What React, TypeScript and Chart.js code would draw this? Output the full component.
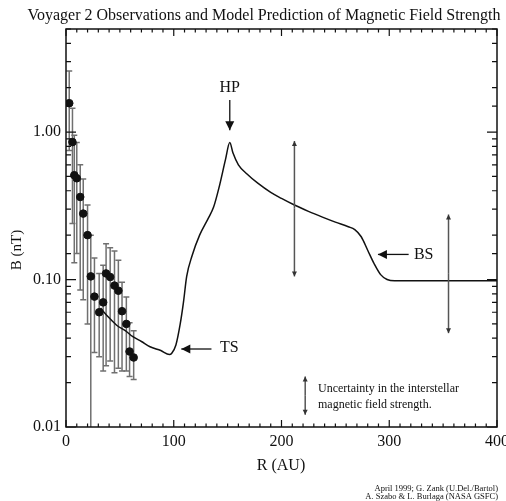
import React, { useEffect, useRef } from 'react';
import { Chart, registerables } from 'chart.js';
Chart.register(...registerables);

// Voyager 2 observations (R in AU, B in nT) with error bar limits
const obsR = [3, 6, 7.7, 10, 13.2, 16, 20, 23, 26.4, 30.8, 34.5, 37.2, 41, 45, 48.6, 52, 56, 59, 62.8];
const obsB = [1.57, 0.855, 0.51, 0.486, 0.363, 0.28, 0.2, 0.105, 0.0766, 0.06, 0.07, 0.11, 0.104, 0.091, 0.084, 0.061, 0.05, 0.0325, 0.0296];
const obsHi = [2.6, 1.45, 0.95, 0.85, 0.6, 0.48, 0.32, 0.2, 0.14, 0.11, 0.125, 0.175, 0.164, 0.156, 0.135, 0.096, 0.076, 0.051, 0.045];
const obsLo = [0.75, 0.24, 0.13, 0.15, 0.085, 0.073, 0.05, 0.005, 0.032, 0.03, 0.024, 0.026, 0.028, 0.0233, 0.025, 0.024, 0.024, 0.022, 0.021];

// Model prediction curve
const modelR = [32, 40, 47, 55, 62, 70, 78, 88, 96, 98, 102, 106, 109, 112, 117, 124, 132, 137, 142, 148, 152, 155, 160, 168, 178, 190, 200, 212, 225, 238, 250, 262, 268, 274, 280, 286, 292, 298, 305, 400];
const modelB = [0.064, 0.055, 0.049, 0.045, 0.041, 0.038, 0.035, 0.033, 0.031, 0.0315, 0.036, 0.05, 0.07, 0.105, 0.145, 0.2, 0.26, 0.31, 0.42, 0.65, 0.85, 0.72, 0.6, 0.52, 0.45, 0.39, 0.355, 0.32, 0.29, 0.265, 0.245, 0.228, 0.218, 0.195, 0.158, 0.128, 0.108, 0.1, 0.098, 0.098];

// Uncertainty of interstellar field (double arrows)
const uncR = [212, 355, 222];
const uncLo = [0.105, 0.0433, 0.0121];
const uncHi = [0.87, 0.276, 0.022];

const xTickLabels = [0, 100, 200, 300, 400];
const yTickLabels = [0.01, 0.1, 1];

const TITLE = 'Voyager 2 Observations and Model Prediction of Magnetic Field Strength';
const SERIF = '"Liberation Serif", "Times New Roman", serif';

function arrowHead(ctx: CanvasRenderingContext2D, x1: number, y1: number, x2: number, y2: number, len: number, half: number) {
  const ang = Math.atan2(y2 - y1, x2 - x1);
  ctx.beginPath();
  ctx.moveTo(x2, y2);
  ctx.lineTo(x2 - len * Math.cos(ang) + half * Math.sin(ang), y2 - len * Math.sin(ang) - half * Math.cos(ang));
  ctx.lineTo(x2 - len * Math.cos(ang) - half * Math.sin(ang), y2 - len * Math.sin(ang) + half * Math.cos(ang));
  ctx.closePath();
  ctx.fill();
}

function arrow(ctx: CanvasRenderingContext2D, x1: number, y1: number, x2: number, y2: number, len: number, half: number) {
  ctx.beginPath();
  ctx.moveTo(x1, y1);
  ctx.lineTo(x2, y2);
  ctx.stroke();
  arrowHead(ctx, x1, y1, x2, y2, len, half);
}

const errorBars = {
  id: 'errorBars',
  beforeDatasetsDraw(chart: any) {
    const { ctx, chartArea: a, scales } = chart;
    const x = scales.x, y = scales.y;
    ctx.save();
    ctx.beginPath();
    ctx.rect(a.left, a.top, a.right - a.left, a.bottom - a.top);
    ctx.clip();
    ctx.strokeStyle = '#707070';
    ctx.lineWidth = 1.5;
    for (let i = 0; i < obsR.length; i++) {
      const px = x.getPixelForValue(obsR[i]);
      const yh = y.getPixelForValue(obsHi[i]);
      const yl = y.getPixelForValue(obsLo[i]);
      ctx.beginPath();
      ctx.moveTo(px, yh); ctx.lineTo(px, yl);
      ctx.moveTo(px - 3, yh); ctx.lineTo(px + 3, yh);
      ctx.moveTo(px - 3, yl); ctx.lineTo(px + 3, yl);
      ctx.stroke();
    }
    ctx.restore();
  },
  afterDraw(chart: any) {
    const { ctx, chartArea: a, scales } = chart;
    const x = scales.x, y = scales.y;
    ctx.save();
    // uncertainty arrows
    ctx.strokeStyle = '#555';
    ctx.fillStyle = '#333';
    ctx.lineWidth = 1.5;
    for (let i = 0; i < uncR.length; i++) {
      const px = x.getPixelForValue(uncR[i]);
      const yt = y.getPixelForValue(uncHi[i]);
      const yb = y.getPixelForValue(uncLo[i]);
      const mid = (yt + yb) / 2;
      arrow(ctx, px, mid, px, yt, 5, 2.5);
      arrow(ctx, px, mid, px, yb, 5, 2.5);
    }
    // annotation arrows
    ctx.strokeStyle = '#111';
    ctx.fillStyle = '#111';
    ctx.lineWidth = 1.3;
    // HP
    const hpX = x.getPixelForValue(152);
    arrow(ctx, hpX, y.getPixelForValue(1.65), hpX, y.getPixelForValue(1.03), 9, 4.5);
    // TS
    const tsY = y.getPixelForValue(0.0338);
    arrow(ctx, x.getPixelForValue(135), tsY, x.getPixelForValue(107), tsY, 9, 4.5);
    // BS
    const bsY = y.getPixelForValue(0.148);
    arrow(ctx, x.getPixelForValue(318), bsY, x.getPixelForValue(289.5), bsY, 9, 4.5);

    ctx.font = '16px ' + SERIF;
    ctx.textAlign = 'center';
    ctx.textBaseline = 'middle';
    ctx.fillText('HP', hpX, y.getPixelForValue(2.0));
    ctx.fillText('TS', x.getPixelForValue(151.5), tsY - 1);
    ctx.fillText('BS', x.getPixelForValue(332), bsY);

    ctx.font = '12px ' + SERIF;
    ctx.textAlign = 'left';
    ctx.fillText('Uncertainty in the interstellar', 318, 389);
    ctx.fillText('magnetic field strength.', 318, 405);

    // frame
    ctx.strokeStyle = '#111';
    ctx.lineWidth = 1.5;
    ctx.strokeRect(a.left, a.top, a.right - a.left, a.bottom - a.top);
    // inward ticks
    ctx.lineWidth = 1.2;
    ctx.beginPath();
    for (const t of x.ticks) {
      const v = t.value;
      const px = x.getPixelForValue(v);
      const len = Math.abs(v % 100) < 1e-6 ? 7 : 3.5;
      ctx.moveTo(px, a.bottom); ctx.lineTo(px, a.bottom - len);
      ctx.moveTo(px, a.top); ctx.lineTo(px, a.top + len);
    }
    for (const t of y.ticks) {
      const v = t.value;
      const l = Math.log10(v);
      const py = y.getPixelForValue(v);
      const major = Math.abs(l - Math.round(l)) < 1e-6;
      const len = major ? 10 : 5;
      ctx.moveTo(a.left, py); ctx.lineTo(a.left + len, py);
      ctx.moveTo(a.right, py); ctx.lineTo(a.right - len, py);
    }
    ctx.stroke();

    // title and axis titles
    ctx.fillStyle = '#111';
    ctx.font = '16px ' + SERIF;
    ctx.textAlign = 'center';
    ctx.fillText(TITLE, 264, 16);
    ctx.fillText('R (AU)', 281, 466);
    ctx.save();
    ctx.translate(17, 250);
    ctx.rotate(-Math.PI / 2);
    ctx.font = '15px ' + SERIF;
    ctx.fillText('B (nT)', 0, 0);
    ctx.restore();

    ctx.font = '8.5px ' + SERIF;
    ctx.textAlign = 'right';
    ctx.fillText('April 1999; G. Zank (U.Del./Bartol)', 498, 489);
    ctx.fillText('A. Szabo & L. Burlaga (NASA GSFC)', 498, 497);
    ctx.restore();
  },
};

export default function App() {
  const ref = useRef<HTMLCanvasElement | null>(null);
  useEffect(() => {
    if (!ref.current) return;
    const chart = new Chart(ref.current, {
      type: 'scatter',
      data: {
        datasets: [
          {
            type: 'line',
            label: 'Model',
            data: modelR.map((r, i) => ({ x: r, y: modelB[i] })),
            borderColor: '#111',
            borderWidth: 1.5,
            pointRadius: 0,
            cubicInterpolationMode: 'monotone',
            fill: false,
          } as any,
          {
            label: 'Voyager 2',
            data: obsR.map((r, i) => ({ x: r, y: obsB[i] })),
            backgroundColor: '#111',
            borderColor: '#111',
            pointRadius: 3.8,
          },
        ],
      },
      options: {
        responsive: false,
        animation: false,
        devicePixelRatio: 1,
        layout: { padding: { top: 29, right: 9, left: 0, bottom: 0 }, autoPadding: false } as any,
        plugins: { legend: { display: false }, tooltip: { enabled: false }, title: { display: false } },
        scales: {
          x: {
            type: 'linear',
            min: 0,
            max: 400,
            grid: { display: false, drawTicks: false },
            border: { display: false },
            ticks: {
              stepSize: 10,
              autoSkip: false,
              maxRotation: 0,
              padding: 5,
              color: '#111',
              font: { family: SERIF, size: 16 },
              callback: (v: any) => (xTickLabels.includes(Number(v)) ? String(v) : ''),
            },
            afterFit: (s: any) => { s.height = 74; s.paddingLeft = 0; s.paddingRight = 0; },
          },
          y: {
            type: 'logarithmic',
            min: 0.01,
            max: 5,
            grid: { display: false, drawTicks: false },
            border: { display: false },
            ticks: {
              autoSkip: false,
              padding: 5,
              color: '#111',
              font: { family: SERIF, size: 16 },
              callback: (v: any) => {
                const n = Number(v);
                return yTickLabels.some((t) => Math.abs(t - n) / t < 1e-6) ? n.toFixed(2) : '';
              },
            },
            afterFit: (s: any) => { s.width = 66; s.paddingTop = 0; s.paddingBottom = 0; },
          },
        },
      },
      plugins: [errorBars],
    });
    return () => chart.destroy();
  }, []);
  return (
    <div style={{ position: 'fixed', left: 0, top: 0, width: 506, height: 501, background: '#fff' }}>
      <canvas ref={ref} width={506} height={501} style={{ width: 506, height: 501, display: 'block' }} />
    </div>
  );
}
